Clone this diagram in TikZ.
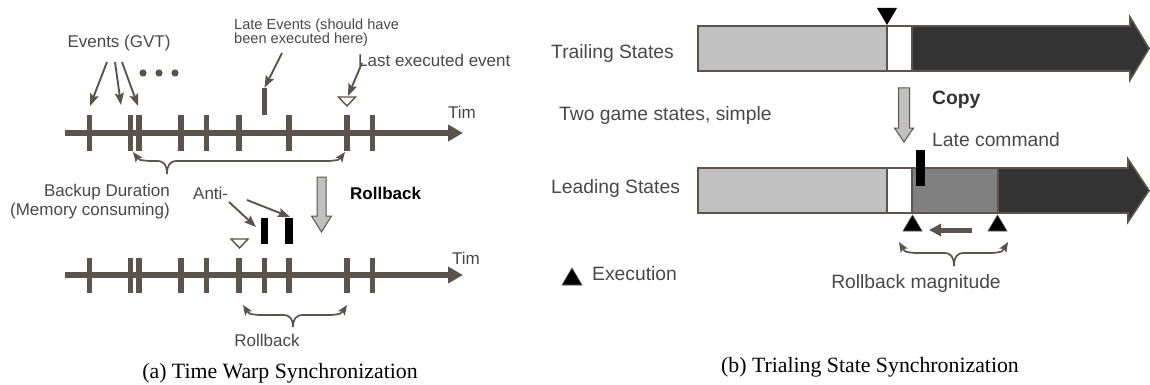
\documentclass[tikz,border=0pt]{standalone}
\usepackage{fontspec}
\setmainfont{Liberation Sans}
\newfontfamily\capfont{Liberation Serif}
\usetikzlibrary{arrows.meta}
\definecolor{ink}{RGB}{91,83,76}
\definecolor{lbl}{RGB}{72,72,72}
\definecolor{lightg}{RGB}{192,192,192}
\definecolor{midg}{RGB}{128,128,128}
\definecolor{darkg}{RGB}{51,51,51}
\begin{document}
\begin{tikzpicture}[x=1pt,y=-1pt,
  lab/.style={inner sep=0pt, text=lbl, font=\fontsize{17}{19.5}\selectfont},
  labsmall/.style={inner sep=0pt, text=lbl, font=\fontsize{14.6}{14.7}\selectfont},
  labR/.style={inner sep=0pt, text=lbl, font=\fontsize{19.3}{22}\selectfont},
  captext/.style={inner sep=0pt, text=black, font=\capfont\fontsize{21.8}{24}\selectfont},
  tick/.style={rectangle, fill=ink, minimum width=5.5pt, minimum height=35pt, inner sep=0pt},
  axis/.style={ink, line width=6.5pt, -{Triangle[length=15pt,width=16pt]}},
  conn/.style={ink, line width=1.9pt, -{Stealth[length=12pt,width=9pt,inset=2pt]}},
  brace/.style={ink, line width=1.7pt, {Stealth[length=10pt,width=8pt,inset=2pt]}-{Stealth[length=10pt,width=8pt,inset=2pt]}},
  hollow/.style={draw=ink, line width=1.4pt, fill=white},
  blockarrow/.style={draw=ink, line width=1pt, fill=lightg},
  bar/.style={draw=ink, line width=1.6pt},
  exec/.style={fill=black, draw=ink, line width=0.6pt}
]
\useasboundingbox (0,0) rectangle (1150,385);

% ================= (a) Time Warp =================
% upper time line
\coordinate (ax1s) at (65,133);
\coordinate (ax1e) at (463,133);
\draw[axis] (ax1s) -- (ax1e);
\foreach \n/\x in {1/89.5,2/130.5,3/139,4/181,5/206.5,6/239,8/289,9/347,10/372.5}
  \node[tick] (u\n) at (\x,133) {};
\node[rectangle, fill=ink, minimum width=5pt, minimum height=27pt, inner sep=0pt] (late) at (264.5,101.5) {};
\draw[hollow] (338.5,97) -- (355.5,97) -- (347,106) -- cycle;
\foreach \x in {143,159,175} \fill[ink] (\x,73) circle (3.6);

% labels of the upper line
\node[lab, anchor=base] (evlbl) at (119,48) {Events (GVT)};
\node[labsmall, anchor=base west, align=left] (latelbl) at (234,44) {Late Events (should have\\been executed here)};
\node[lab, anchor=base west] (lastlbl) at (358,66.5) {Last executed event};
\node[lab, anchor=base west] (tim1) at (448,118) {Tim};

\coordinate (ev1s) at (107,62); \coordinate (ev1e) at (90,106);
\coordinate (ev2s) at (115,62); \coordinate (ev2e) at (121,105);
\coordinate (ev3s) at (122,62); \coordinate (ev3e) at (138,106);
\draw[conn] (ev1s) -- (ev1e);
\draw[conn] (ev2s) -- (ev2e);
\draw[conn] (ev3s) -- (ev3e);
\coordinate (lates) at (282,53);
\draw[conn] (lates) -- (late.north);
\coordinate (lasts) at (362,63); \coordinate (laste) at (348,96);
\draw[conn] (lasts) -- (laste);

% backup duration brace
\coordinate (bbL) at (133,152); \coordinate (bbR) at (345,152); \coordinate (bbM) at (167,174);
\draw[brace] (bbL) .. controls (139,160) .. (149,161) -- (157,161)
  .. controls (164,161) and (167,165) .. (bbM)
  .. controls (167,165) and (170,161) .. (177,161) -- (329,161)
  .. controls (339,160) .. (bbR);
\node[lab, anchor=base east, align=right] (backup) at (170,215.5) {Backup Duration\\(Memory consuming)};

% rollback block arrow
\draw[blockarrow] (317,177) -- (326,177) -- (326,216) -- (331.5,216) -- (321.5,232)
  -- (311.5,216) -- (317,216) -- cycle;
\node[lab, anchor=base west, text=black, font=\fontsize{17}{19.5}\selectfont\bfseries] (rbk) at (350,199) {Rollback};

% lower time line
\coordinate (ax2s) at (65,275);
\coordinate (ax2e) at (463,275);
\draw[axis] (ax2s) -- (ax2e);
\foreach \n/\x in {1/89.5,2/130.5,3/139,4/181,5/206.5,6/239,7/264.5,8/289,9/347,10/372.5}
  \node[tick] (d\n) at (\x,275) {};
\node[lab, anchor=base west] (tim2) at (452,264) {Tim};
\draw[hollow] (231,239) -- (248,239) -- (239.5,248) -- cycle;
\node[rectangle, fill=black, minimum width=7.5pt, minimum height=26pt, inner sep=0pt] (anti1) at (264.5,231) {};
\node[rectangle, fill=black, minimum width=7.5pt, minimum height=26pt, inner sep=0pt] (anti2) at (289,231) {};
\node[lab, anchor=base west] (anti) at (193,199) {Anti-};
\coordinate (a1s) at (229,202); \coordinate (a1e) at (256,227);
\coordinate (a2s) at (247,200); \coordinate (a2e) at (290,217);
\draw[conn] (a1s) -- (a1e);
\draw[conn] (a2s) -- (a2e);

% rollback brace
\coordinate (rbL) at (243,305); \coordinate (rbR) at (347,305); \coordinate (rbM) at (293,327);
\draw[brace] (rbL) .. controls (249,314) .. (259,315) -- (283,315)
  .. controls (290,315) and (293,319) .. (rbM)
  .. controls (293,319) and (296,315) .. (303,315) -- (331,315)
  .. controls (341,314) .. (rbR);
\node[lab, anchor=base] (rblbl) at (267,346) {Rollback};

\node[captext, anchor=base] (capa) at (280,378) {(a) Time Warp Synchronization};

% ================= (b) Trailing State =================
% trailing state bar
\fill[lightg] (698,26) rectangle (887,71);
\fill[white] (887,26) rectangle (912,71);
\draw[bar, fill=darkg] (912,26) -- (1130,26) -- (1130,17) -- (1149,48.5) -- (1130,80)
  -- (1130,71) -- (912,71) -- cycle;
\draw[bar] (698,26) rectangle (912,71);
\draw[bar] (887,26) -- (887,71);
\fill[black] (877,8) -- (897,8) -- (887,25) -- cycle;

% leading state bar
\fill[lightg] (698,168) rectangle (887,213);
\fill[white] (887,168) rectangle (912,213);
\draw[bar, fill=midg] (912,168) rectangle (998,213);
\draw[bar, fill=darkg] (998,168) -- (1128,168) -- (1128,159) -- (1149,190.5) -- (1128,222)
  -- (1128,213) -- (998,213) -- cycle;
\draw[bar] (698,168) rectangle (912,213);
\draw[bar] (887,168) -- (887,213);
\node[rectangle, fill=black, minimum width=9pt, minimum height=36pt, inner sep=0pt] (latecmd) at (920.5,168) {};

% copy block arrow
\draw[blockarrow] (898.5,88) -- (909.5,88) -- (909.5,128) -- (913.5,128) -- (904,142)
  -- (894.5,128) -- (898.5,128) -- cycle;

% execution marks and rollback
\draw[exec] (903,231) -- (922,231) -- (912.5,215) -- cycle;
\draw[exec] (988,231) -- (1007,231) -- (997.5,215) -- cycle;
\coordinate (rms) at (972,230); \coordinate (rme) at (929,230);
\draw[ink, line width=5pt, -{Triangle[length=12pt,width=12pt]}] (rms) -- (rme);
\coordinate (mbL) at (899,242); \coordinate (mbR) at (1008,242); \coordinate (mbM) at (954,266);
\draw[brace] (mbL) .. controls (905,252) .. (915,253) -- (944,253)
  .. controls (951,253) and (954,257) .. (mbM)
  .. controls (954,257) and (957,253) .. (964,253) -- (992,253)
  .. controls (1002,252) .. (mbR);

% legend triangle
\draw[exec] (562,285) -- (582,285) -- (572,268) -- cycle;

% labels
\node[labR, anchor=base west] (trail) at (551,59) {Trailing States};
\node[labR, anchor=base west] (two) at (559,120.7) {Two game states, simple};
\node[labR, anchor=base west] (lead) at (551,193) {Leading States};
\node[labR, anchor=base west, text=darkg, font=\fontsize{19.3}{22}\selectfont\bfseries] (copy) at (932,105) {Copy};
\node[labR, anchor=base west] (latec) at (932,146.7) {Late command};
\node[labR, anchor=base west] (execl) at (592,280) {Execution};
\node[labR, anchor=base] (rmag) at (916,288) {Rollback magnitude};
\node[captext, anchor=base] (capb) at (870,372) {(b) Trialing State Synchronization};
\end{tikzpicture}
\end{document}
